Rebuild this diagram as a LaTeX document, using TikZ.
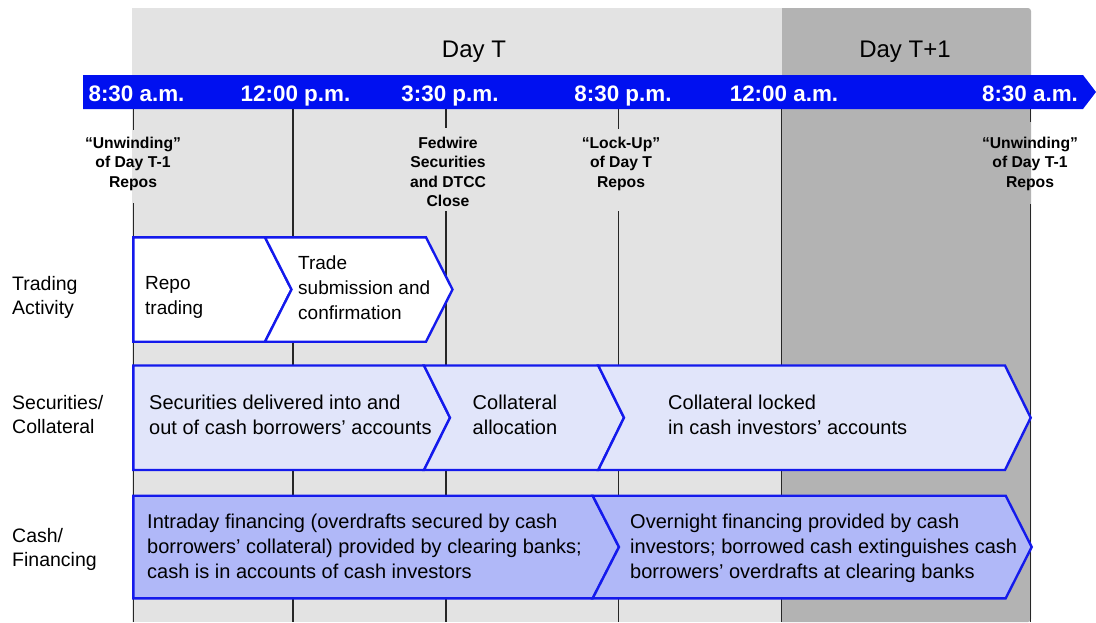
\documentclass[tikz,border=0pt]{standalone}
\usepackage{fontspec}
\setmainfont{Liberation Sans}
\definecolor{lightbg}{RGB}{227,227,227}
\definecolor{darkbg}{RGB}{179,179,179}
\definecolor{barblue}{RGB}{0,16,240}
\definecolor{chevblue}{RGB}{20,26,236}
\definecolor{secfill}{RGB}{225,229,250}
\definecolor{cashfill}{RGB}{176,184,248}
\begin{document}
\begin{tikzpicture}[x=1pt,y=-1pt,
  timelbl/.style={text=white, font=\bfseries\fontsize{22.4}{27}\selectfont, anchor=base, inner sep=0pt},
  daylbl/.style={font=\fontsize{24}{29}\selectfont, anchor=base, inner sep=0pt},
  annot/.style={font=\bfseries\fontsize{15.7}{19.3}\selectfont, align=center, anchor=north, inner sep=0pt, execute at begin node=\strut},
  rowlbl/.style={font=\fontsize{19.5}{24.2}\selectfont, align=left, anchor=north west, inner sep=0pt, execute at begin node=\strut},
  chevtxt/.style={font=\fontsize{20}{25}\selectfont, align=left, anchor=north west, inner sep=0pt, execute at begin node=\strut},
  chevtxtsm/.style={font=\fontsize{19}{25}\selectfont, align=left, anchor=north west, inner sep=0pt, execute at begin node=\strut},
  chev/.style={draw=chevblue, line width=2.4pt, line join=miter},
  tick/.style={draw=black!85, line width=1.1pt}
]
\useasboundingbox (0,0) rectangle (1096,622);
% backgrounds
\fill[lightbg] (131.5,8) rectangle (782,622);
\fill[darkbg] (782,622) -- (782,8) [rounded corners=3pt] -- (1031,8) -- (1031,622) [sharp corners] -- cycle;
% vertical lines
\coordinate (t1a) at (133.3,109); \coordinate (t1b) at (133.3,130);
\coordinate (t1c) at (133.3,203); \coordinate (t1d) at (133.3,622);
\draw[tick] (t1a) -- (t1b) (t1c) -- (t1d);
\coordinate (t2a) at (293,109); \coordinate (t2d) at (293,622);
\draw[tick] (t2a) -- (t2d);
\coordinate (t3a) at (446,109); \coordinate (t3b) at (446,128);
\coordinate (t3c) at (446,211); \coordinate (t3d) at (446,622);
\draw[tick] (t3a) -- (t3b) (t3c) -- (t3d);
\coordinate (t4a) at (618.3,109); \coordinate (t4b) at (618.3,129);
\coordinate (t4c) at (618.3,211); \coordinate (t4d) at (618.3,622);
\draw[tick] (t4a) -- (t4b) (t4c) -- (t4d);
\coordinate (t5a) at (781.5,109); \coordinate (t5d) at (781.5,622);
\draw[tick] (t5a) -- (t5d);
\coordinate (t6a) at (1030.7,109); \coordinate (t6b) at (1030.7,122);
\coordinate (t6c) at (1030.7,204); \coordinate (t6d) at (1030.7,622);
\draw[tick] (t6a) -- (t6b) (t6c) -- (t6d);
% time bar
\fill[barblue] (83,75) -- (1083,75) -- (1096,92) -- (1083,109) -- (83,109) -- cycle;
\node[timelbl] (h1) at (136.5,101) {8:30 a.m.};
\node[timelbl] (h2) at (295.5,101) {12:00 p.m.};
\node[timelbl] (h3) at (450,101) {3:30 p.m.};
\node[timelbl] (h4) at (623,101) {8:30 p.m.};
\node[timelbl] (h5) at (784,101) {12:00 a.m.};
\node[timelbl] (h6) at (1030,101) {8:30 a.m.};
% day labels
\node[daylbl] (dayT) at (474,57) {Day T};
\node[daylbl] (dayT1) at (905,57) {Day T+1};
% annotations
\node[annot] (a1) at (133,137) {“Unwinding”\\of Day T-1\\Repos};
\node[annot] (a2) at (448,137) {Fedwire\\Securities\\and DTCC\\Close};
\node[annot] (a3) at (621,137) {“Lock-Up”\\of Day T\\Repos};
\node[annot] (a4) at (1030,137) {“Unwinding”\\of Day T-1\\Repos};
% row labels
\node[rowlbl] (r1) at (12,276) {Trading\\Activity};
\node[rowlbl] (r2) at (12,395) {Securities/\\Collateral};
\node[rowlbl] (r3) at (12,528) {Cash/\\Financing};
% row 1 chevrons
\filldraw[chev, fill=white] (133.3,237.3) -- (265,237.3) -- (291.5,289.5) -- (265,341.7) -- (133.3,341.7) -- cycle;
\filldraw[chev, fill=white] (265,237.3) -- (426,237.3) -- (452.5,289.5) -- (426,341.7) -- (265,341.7) -- (291.5,289.5) -- cycle;
\node[chevtxtsm] (c11) at (145,276) {Repo\\trading};
\node[chevtxtsm] (c12) at (298,255.5) {Trade\\submission and\\confirmation};
% row 2 chevrons
\filldraw[chev, fill=secfill] (133.3,365.5) -- (424,365.5) -- (450,417.7) -- (424,470) -- (133.3,470) -- cycle;
\filldraw[chev, fill=secfill] (424,365.5) -- (598.3,365.5) -- (624,417.7) -- (598.3,470) -- (424,470) -- (450,417.7) -- cycle;
\filldraw[chev, fill=secfill] (598.3,365.5) -- (1005,365.5) -- (1030.7,417.7) -- (1005,470) -- (598.3,470) -- (624,417.7) -- cycle;
\node[chevtxt] (c21) at (149,394.5) {Securities delivered into and\\out of cash borrowers’ accounts};
\node[chevtxt] (c22) at (472.5,394.5) {Collateral\\allocation};
\node[chevtxt] (c23) at (668,394.5) {Collateral locked\\in cash investors’ accounts};
% row 3 chevrons
\filldraw[chev, fill=cashfill] (133.3,495.7) -- (592.7,495.7) -- (619,547) -- (592.7,598.3) -- (133.3,598.3) -- cycle;
\filldraw[chev, fill=cashfill] (592.7,495.7) -- (1005.7,495.7) -- (1031.7,547) -- (1005.7,598.3) -- (592.7,598.3) -- (619,547) -- cycle;
\node[chevtxt] (c31) at (147,513.5) {Intraday financing (overdrafts secured by cash\\borrowers\symbol{39} collateral) provided by clearing banks;\\cash is in accounts of cash investors};
\node[chevtxt] (c32) at (630,513.5) {Overnight financing provided by cash\\investors; borrowed cash extinguishes cash\\borrowers’ overdrafts at clearing banks};
\end{tikzpicture}
\end{document}
